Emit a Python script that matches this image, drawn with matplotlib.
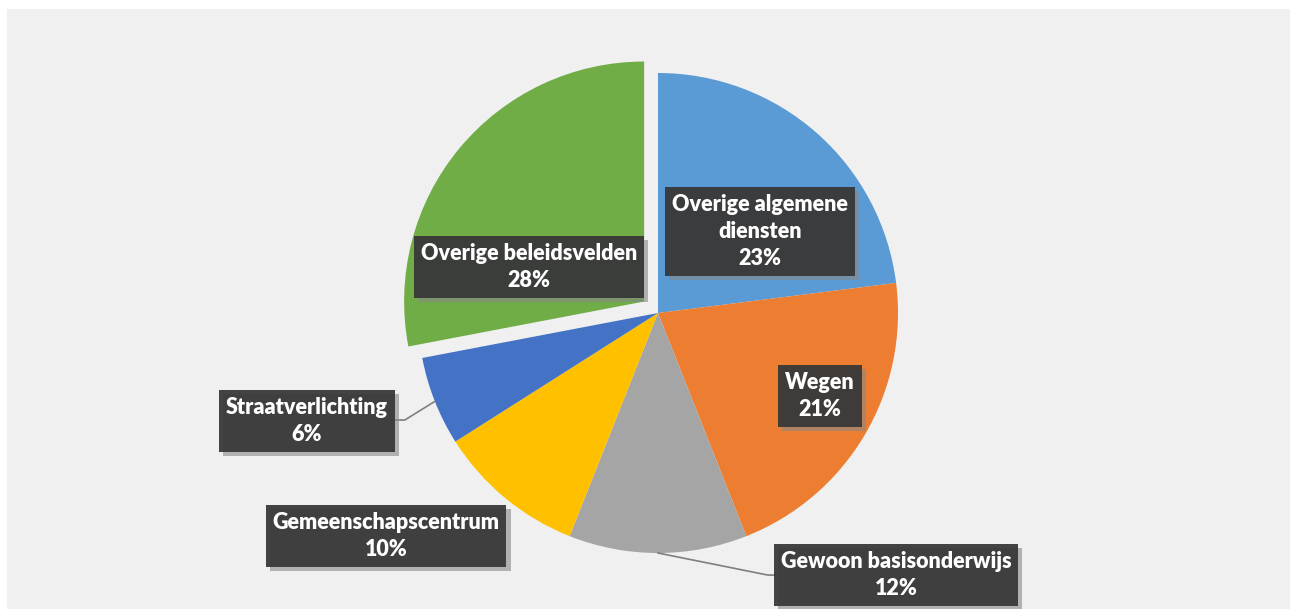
import matplotlib.pyplot as plt
import matplotlib.patheffects as pe
from matplotlib.patches import Rectangle
import numpy as np

labels = ['Overige algemene\ndiensten', 'Wegen', 'Gewoon basisonderwijs',
          'Gemeenschapscentrum', 'Straatverlichting', 'Overige beleidsvelden']
shares = [23, 21, 12, 10, 6, 28]
colours = ['#5B9BD5', '#ED7D31', '#A5A5A5', '#FFC000', '#4472C4', '#70AD47']
explode = [0, 0, 0, 0, 0, 0.075]

# label box centres, in pie radii relative to pie centre
label_pos = [(0.425, 0.34), (0.675, -0.346), (0.992, -1.092),
             (-1.133, -0.929), (-1.4625, -0.45), (-0.5375, 0.192)]

W, H = 1298, 609
CX, CY, R = 658, 313, 240

fig = plt.figure(figsize=(W / 100, H / 100), dpi=100)
fig.patch.set_facecolor('white')
fig.patches.append(Rectangle((7 / W, 0), (1290 - 7) / W, (H - 9) / H,
                             transform=fig.transFigure, facecolor='#f0f0f0',
                             edgecolor='none', zorder=-10))

ax = fig.add_axes([0, 0, 1, 1])
ax.set_facecolor('none')

wedges, _ = ax.pie(shares, colors=colours, explode=explode, startangle=90,
                   counterclock=False, radius=1, wedgeprops=dict(linewidth=0))

# pie() resets the limits, so set them afterwards (1 unit = R pixels)
ax.set_xlim(-CX / R, (W - CX) / R)
ax.set_ylim(-(H - CY) / R, CY / R)
ax.set_aspect('equal')
ax.axis('off')

for w, lab, s, (x, y) in zip(wedges, labels, shares, label_pos):
    t = ax.text(x, y, f'{lab}\n{s}%', ha='center', va='center', color='white',
                fontsize=15.5, fontweight='heavy', family=['Lato', 'DejaVu Sans'],
                linespacing=1.35, zorder=5,
                bbox=dict(boxstyle='square,pad=0.32', facecolor=(0.21, 0.21, 0.21, 0.93),
                          edgecolor='none'))
    t.get_bbox_patch().set_path_effects([
        pe.SimplePatchShadow(offset=(3, -3), shadow_rgbFace='#888888', alpha=0.6),
        pe.Normal()])

# leader lines for the two outside labels
def edge_point(w):
    a = np.deg2rad((w.theta1 + w.theta2) / 2)
    return np.cos(a), np.sin(a)

ex, ey = edge_point(wedges[4])
ax.plot([ex, -1.055, -1.108], [ey, -0.446, -0.446], color='#7f7f7f', lw=1.2, zorder=4)
ex, ey = edge_point(wedges[2])
ax.plot([ex, 0.458, 0.492], [ey, -1.092, -1.092], color='#7f7f7f', lw=1.2, zorder=4)

fig.savefig('out.png', dpi=100)
